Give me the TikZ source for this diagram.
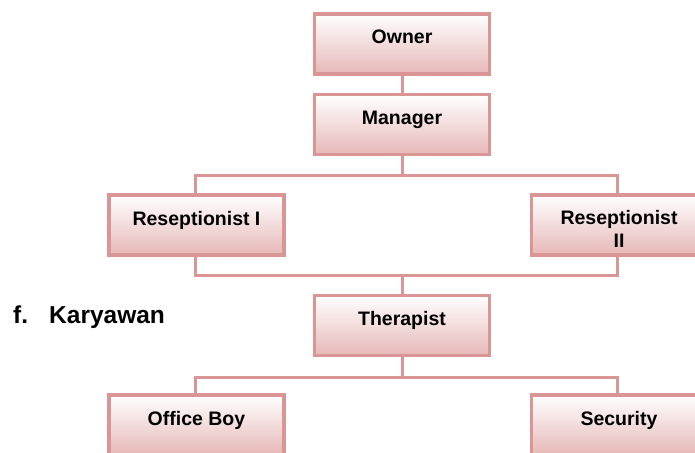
\documentclass[tikz,border=0pt]{standalone}
\usepackage{fontspec}
\setmainfont{Liberation Sans}
\definecolor{pinkline}{RGB}{217,150,148}
\definecolor{pinkfill}{RGB}{230,184,183}
\begin{document}
\begin{tikzpicture}[x=1pt,y=-1pt,
  box/.style={draw=pinkline, line width=3.5pt, top color=white, bottom color=pinkfill,
    minimum width=175pt, minimum height=60pt, inner sep=0pt, outer sep=0pt},
  lbl/.style={anchor=base, inner sep=0pt, font=\bfseries\fontsize{19.5}{23}\selectfont},
  conn/.style={draw=pinkline, line width=3pt},
  head/.style={anchor=base west, inner sep=0pt, font=\bfseries\fontsize{24.5}{29}\selectfont}]
\useasboundingbox (0,0) rectangle (695,452);
% boxes
\node[box] (owner) at (402,44) {};
\node[box] (manager) at (402,124.5) {};
\node[box] (resI) at (196.5,225) {};
\node[box] (resII) at (619,225) {};
\node[box] (ther) at (402,325.5) {};
\node[box] (ob) at (196.5,425) {};
\node[box] (sec) at (619,425) {};
% labels
\node[lbl] (ownerT) at (owner.center) {Owner};
\node[lbl] (managerT) at (manager.center) {Manager};
\node[lbl] (resIT) at (resI.center) {Reseptionist I};
\node[lbl] (resIIT) at ([yshift=1pt]resII.center) {Reseptionist};
\node[lbl] (resIIb) at ([yshift=-22pt]resII.center) {II};
\node[lbl] (therT) at (ther.center) {Therapist};
\node[lbl] (obT) at (ob.center) {Office Boy};
\node[lbl] (secT) at (sec.center) {Security};
\node[head] (fT) at (13,323) {f.};
\node[head] (karT) at (49,323) {Karyawan};
% connectors
\coordinate (b1) at (402,175);
\coordinate (b2) at (402,275);
\coordinate (b3) at (402,377);
\draw[conn] (owner.south) -- (manager.north);
\draw[conn] (manager.south) -- (b1);
\draw[conn] ([xshift=-1.5pt]resI.north) |- (b1) -| ([xshift=-1.5pt]resII.north);
\draw[conn] ([xshift=-1.5pt]resI.south) |- (b2) -| ([xshift=-1.5pt]resII.south);
\draw[conn] (b2) -- (ther.north);
\draw[conn] (ther.south) -- (b3);
\draw[conn] ([xshift=-1.5pt]ob.north) |- (b3) -| ([xshift=-1.5pt]sec.north);
\end{tikzpicture}
\end{document}
